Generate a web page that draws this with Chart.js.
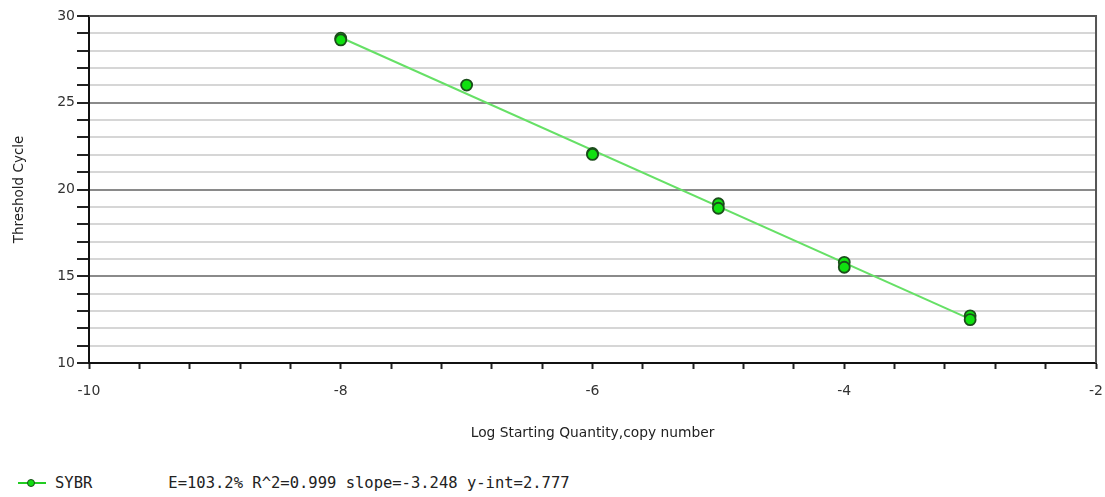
<!DOCTYPE html>
<html>
<head>
<meta charset="utf-8">
<script src="https://cdn.jsdelivr.net/npm/chart.js@4"></script>
<style>
  html, body { margin: 0; background: #fff; overflow: hidden; }
  #wrap { position: relative; width: 1105px; height: 497px; overflow: hidden; }
  #legend { position: absolute; left: 18px; top: 474px; font: 15.5px "DejaVu Sans Mono", monospace; color: #222; white-space: pre; display: flex; align-items: center; }
  #legend .mk { position: relative; width: 28px; height: 14px; margin-right: 9px; }
  #legend .mk i { position: absolute; left: 0; right: 0; top: 6px; height: 2px; background: #22cc22; }
  #legend .mk b { position: absolute; left: 9px; top: 3px; width: 6px; height: 6px; border-radius: 50%; background: #11dd11; border: 1.5px solid #1b4d1b; }
</style>
</head>
<body>
<div id="wrap">
  <canvas id="stdCurve" width="1117" height="455"></canvas>
  <div id="legend"><span class="mk"><i></i><b></b></span><span>SYBR</span><span style="margin-left:76px">E=103.2% R^2=0.999 slope=-3.248 y-int=2.777</span></div>
</div>
<script>
// standard curve replicates
const logQty = [-8, -8, -7, -6, -6, -5, -5, -4, -4, -3, -3];
const ctValues = [28.72, 28.62, 26.02, 22.08, 22.02, 19.18, 18.92, 15.8, 15.52, 12.72, 12.5];
// regression line ends
const fitX = [-8, -3];
const fitY = [28.76, 12.53];

const xTitle = 'Log Starting Quantity,copy number';
const yTitle = 'Threshold Cycle';

const tickFont = { family: 'DejaVu Sans', size: 14 };

const frame = {
  id: 'frame',
  afterDatasetsDraw(chart) {
    const a = chart.chartArea, c = chart.ctx;
    c.save();
    c.strokeStyle = '#555';
    c.lineWidth = 2;
    c.beginPath();
    c.moveTo(a.left, a.top);
    c.lineTo(a.right, a.top);
    c.lineTo(a.right, a.bottom);
    c.stroke();
    c.restore();
  }
};

new Chart(document.getElementById('stdCurve').getContext('2d'), {
  type: 'scatter',
  data: {
    datasets: [
      {
        data: fitX.map((x, i) => ({ x, y: fitY[i] })),
        showLine: true,
        borderColor: '#66e066',
        borderWidth: 2,
        pointRadius: 0,
        order: 2
      },
      {
        data: logQty.map((x, i) => ({ x, y: ctValues[i] })),
        backgroundColor: '#10e010',
        borderColor: '#1b4d1b',
        borderWidth: 1.8,
        pointRadius: 5.5,
        order: 1
      }
    ]
  },
  options: {
    responsive: false,
    animation: false,
    layout: { padding: { left: 0, top: 16, right: 0, bottom: 0 } },
    plugins: { legend: { display: false }, tooltip: { enabled: false } },
    scales: {
      x: {
        min: -10, max: -2,
        afterFit: s => { s.height = 92; },
        afterBuildTicks: s => {
          s.ticks = [];
          for (let k = 0; k <= 20; k++) s.ticks.push({ value: -10 + k * 0.4 });
        },
        ticks: {
          autoSkip: false, maxRotation: 0, padding: 14, color: '#333', font: tickFont,
          callback: v => {
            const r = Math.round(v);
            return Math.abs(v - r) < 1e-6 && r % 2 === 0 ? String(r) : '';
          }
        },
        grid: { drawOnChartArea: false, tickLength: 6, tickColor: '#222', tickWidth: 2 },
        border: { color: '#111', width: 2 },
        title: { display: true, text: xTitle, color: '#222', font: { family: 'DejaVu Sans', size: 13.8 }, padding: { top: 4, bottom: 13 } }
      },
      y: {
        min: 10, max: 30,
        afterFit: s => { s.width = 89; },
        ticks: {
          stepSize: 1, autoSkip: false, padding: 2, color: '#333', font: tickFont,
          callback: v => (v % 5 === 0 ? String(v) : '')
        },
        grid: {
          tickLength: 12,
          lineWidth: 2,
          color: ctx => (ctx.tick && ctx.tick.value % 5 === 0 ? '#8a8a8a' : '#d6d6d6'),
          tickColor: '#222',
          tickWidth: 2
        },
        border: { color: '#111', width: 2 },
        title: { display: true, text: yTitle, color: '#222', font: { family: 'DejaVu Sans', size: 13.5 }, padding: { top: 11, bottom: 0 } }
      }
    }
  },
  plugins: [frame]
});
</script>
</body>
</html>
